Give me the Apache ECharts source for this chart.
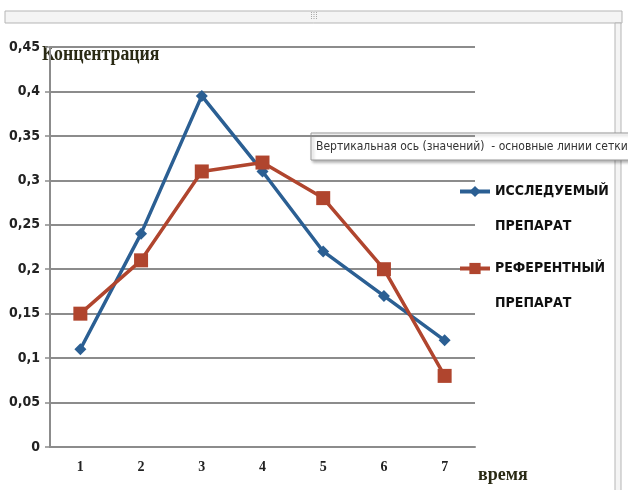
<!DOCTYPE html>
<html>
<head>
<meta charset="utf-8">
<script src="https://cdn.jsdelivr.net/npm/echarts@6/dist/echarts.min.js"></script>
<style>
  html, body { margin: 0; padding: 0; background: #fff; }
  #main { width: 628px; height: 490px; }
</style>
</head>
<body>
<div id="main"></div>
<script>
// time points and concentrations
const times = ["1", "2", "3", "4", "5", "6", "7"];
const testDrug = [0.11, 0.24, 0.395, 0.31, 0.22, 0.17, 0.12];
const refDrug = [0.15, 0.21, 0.31, 0.32, 0.28, 0.20, 0.08];
const testName = "ИССЛЕДУЕМЫЙ ПРЕПАРАТ";
const refName = "РЕФЕРЕНТНЫЙ ПРЕПАРАТ";

const blue = "#2b5f93";
const red = "#b0452e";
const gridGray = "#8c8c8c";
const narrow = "DejaVu Sans Condensed";

function legendFor(name, top) {
  return {
    data: [name],
    orient: "vertical",
    left: 458,
    top: top,
    padding: 0,
    itemWidth: 30,
    itemHeight: 14,
    itemGap: 0,
    selectedMode: false,
    lineStyle: { width: 4 },
    formatter: (n) => "\n" + n.replace(" ", "\n"),
    textStyle: {
      fontFamily: narrow,
      fontWeight: "bold",
      fontSize: 14,
      color: "#111",
      lineHeight: 35
    }
  };
}

var myChart = echarts.init(document.querySelector("#main"));
myChart.setOption({
  animation: false,
  backgroundColor: "#fff",
  grid: { left: 50, right: 153, top: 47, bottom: 43 },
  legend: [legendFor(testName, 139), legendFor(refName, 216)],
  xAxis: {
    type: "category",
    data: times,
    boundaryGap: true,
    axisLine: { lineStyle: { color: gridGray, width: 2 } },
    axisTick: { length: 5, lineStyle: { color: gridGray, width: 1.5 } },
    axisLabel: {
      margin: 13,
      fontFamily: "Liberation Serif",
      fontWeight: "bold",
      fontSize: 14,
      color: "#222"
    }
  },
  yAxis: {
    type: "value",
    min: 0,
    max: 0.45,
    interval: 0.05,
    axisLine: { show: true, lineStyle: { color: gridGray, width: 2 } },
    axisTick: { show: true, length: 5, lineStyle: { color: gridGray, width: 1.5 } },
    splitLine: { lineStyle: { color: gridGray, width: 2 } },
    axisLabel: {
      margin: 10,
      fontFamily: narrow,
      fontWeight: "bold",
      fontSize: 14,
      color: "#222",
      formatter: (v) => String(Math.round(v * 100) / 100).replace(".", ",")
    }
  },
  series: [
    {
      name: testName,
      type: "line",
      data: testDrug,
      symbol: "diamond",
      symbolSize: 12,
      lineStyle: { color: blue, width: 3.5 },
      itemStyle: { color: blue }
    },
    {
      name: refName,
      type: "line",
      data: refDrug,
      symbol: "rect",
      symbolSize: 14,
      lineStyle: { color: red, width: 3.5 },
      itemStyle: { color: red }
    }
  ],
  graphic: [
    // window frame
    { type: "rect", shape: { x: 5, y: 11, width: 617, height: 12 },
      style: { fill: "#f4f4f4", stroke: "#b5b5b5", lineWidth: 1 }, silent: true },
    { type: "text", x: 314, y: 17,
      style: { text: "⁞⁞⁞", fill: "#999", fontSize: 9, align: "center", verticalAlign: "middle" } },
    { type: "rect", shape: { x: 615, y: 23, width: 6, height: 470 },
      style: { fill: "#f4f4f4", stroke: "#b5b5b5", lineWidth: 1 }, silent: true },
    // y axis title
    { type: "rect", shape: { x: 40, y: 38, width: 125, height: 30 },
      style: { fill: "#fff" }, silent: true },
    { type: "text", x: 42, y: 55, scaleX: 0.89,
      style: { text: "Концентрация", fill: "#2a2a14", fontFamily: "Liberation Serif",
        fontWeight: "bold", fontSize: 20, verticalAlign: "middle" } },
    // x axis title
    { type: "text", x: 478, y: 475,
      style: { text: "время", fill: "#2a2a14", fontFamily: "Liberation Serif",
        fontWeight: "bold", fontSize: 18, verticalAlign: "middle" } },
    // tooltip box
    { type: "rect", shape: { x: 311, y: 133, width: 330, height: 27 },
      style: { fill: "#fff", stroke: "#9a9a9a", lineWidth: 1,
        shadowBlur: 3, shadowOffsetX: 2, shadowOffsetY: 2, shadowColor: "rgba(0,0,0,0.3)" } },
    { type: "text", x: 316, y: 147,
      style: { text: "Вертикальная ось (значений)  - основные линии сетки", fill: "#333",
        fontFamily: narrow, fontSize: 12, verticalAlign: "middle" } }
  ]
});
window.onresize = function() {
  myChart.resize();
};
</script>
</body>
</html>
